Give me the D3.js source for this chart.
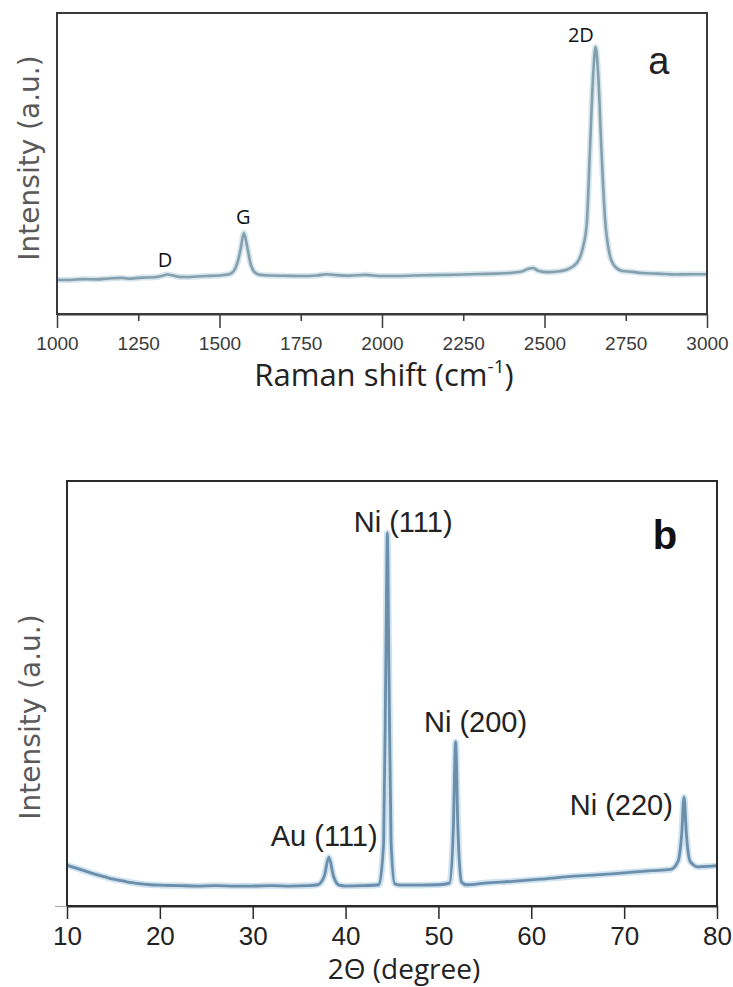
<!DOCTYPE html>
<html>
<head>
<meta charset="utf-8">
<script src="https://cdn.jsdelivr.net/npm/d3@7"></script>
<style>
  html, body { margin: 0; padding: 0; background: #ffffff; }
  svg { display: block; }
</style>
</head>
<body>
<svg id="chart" width="733" height="987"></svg>
<script>
// ---------- Panel a: Raman spectrum ----------
const ramanShift = [1000,1040,1080,1120,1160,1200,1220,1260,1300,1320,1340,1360,1380,1420,1460,1500,1530,
  1545,1555,1565,1575,1585,1595,1608,1625,1650,1700,1750,1800,1830,1860,1900,1950,2000,2050,2100,2150,
  2200,2250,2300,2350,2400,2430,2450,2465,2480,2510,2540,2570,2600,2618,2630,2640,2650,2657,2665,2675,
  2686,2700,2715,2740,2770,2800,2850,2900,2950,3000];
const ramanIntensity = [11.4,11.3,11.6,11.5,11.8,12.0,11.7,12.1,12.2,12.6,13.1,12.7,12.3,12.4,12.6,12.8,13.2,
  14.5,17.0,21.5,26.9,22.5,17.0,13.9,13.0,12.8,12.7,12.6,12.8,13.2,12.9,12.7,13.0,12.6,12.6,12.8,12.9,
  13.0,13.1,13.3,13.4,13.7,14.1,15.0,15.3,14.4,13.9,14.1,14.8,17.0,22.0,30.0,55.0,80.0,88.7,80.0,55.0,
  32.0,20.0,16.0,14.3,14.0,13.6,13.4,13.1,13.2,13.2];
const ramanTicks = [1000,1250,1500,1750,2000,2250,2500,2750,3000];
const ramanMajor = [1000,1500,2000,2500,3000];
const ramanPeakNames = ["D","G","2D"];
const ramanPeakPos = [1332,1573,2612];
const ramanPeakLabelVal = [15.5,29.8,90.5];

// ---------- Panel b: XRD pattern ----------
const twoTheta = [10,11,12,13,14,15,16,17,18,19,20,22,24,26,28,30,32,34,36,37,37.7,38.2,38.7,39.3,40,42,43.6,
  44.1,44.35,44.5,44.65,44.9,45.3,46,48,50,51.2,51.6,51.85,52.1,52.5,53,55,58,61,64,67,70,73,75,75.8,76.2,
  76.45,76.7,77.1,78,79,80];
const xrdIntensity = [9.6,8.9,8.2,7.5,6.9,6.3,5.9,5.5,5.2,5.0,4.9,4.8,4.7,4.8,4.7,4.7,4.8,4.7,4.8,5.0,7.0,11.5,
  7.0,4.9,4.7,4.8,5.0,15,60,87.8,60,15,5.2,4.9,4.9,5.0,5.4,18,38.6,18,5.6,5.0,5.4,5.8,6.3,6.9,7.3,7.8,8.3,8.6,
  10.5,17,25.6,17,10.5,9.2,9.3,9.5];
const xrdTicks = [10,20,30,40,50,60,70,80];
const xrdPeakNames = ["Au (111)","Ni (111)","Ni (200)","Ni (220)"];
const xrdPeakPos = [37.7,46.2,54.0,69.7];
const xrdPeakLabelVal = [14.1,88.0,41.0,21.3];

const svg = d3.select("#chart");

// ===== Panel a =====
const xa = d3.scaleLinear().domain([1000,3000]).range([57,707]);
const ya = d3.scaleLinear().domain([0,100]).range([314,13]);

const ga = svg.append("g");
const lineA = d3.line().x((d,i)=>xa(ramanShift[i])).y((d,i)=>ya(ramanIntensity[i])).curve(d3.curveMonotoneX);
ga.append("path").datum(ramanShift).attr("d", lineA)
  .attr("fill","none").attr("stroke","#d6e6ef").attr("stroke-width",6).attr("stroke-linejoin","round");
ga.append("path").datum(ramanShift).attr("d", lineA)
  .attr("fill","none").attr("stroke","#85a0ad").attr("stroke-width",2.6).attr("stroke-linejoin","round");

ga.append("rect").attr("x",xa(1000)).attr("y",ya(100)).attr("width",xa(3000)-xa(1000)).attr("height",ya(0)-ya(100))
  .attr("fill","none").attr("stroke","#3a3a3a").attr("stroke-width",2);

const axA = ga.append("g").attr("transform",`translate(0,${ya(0)})`)
  .call(d3.axisBottom(xa).tickValues(ramanTicks).tickFormat(d3.format("d")).tickSize(7).tickSizeOuter(0));
axA.select(".domain").attr("stroke","#3a3a3a").attr("stroke-width",2);
axA.selectAll(".tick line").attr("stroke","#3a3a3a").attr("stroke-width",1.5)
  .attr("y2", d => ramanMajor.includes(d) ? 14 : 7);
axA.selectAll(".tick text").attr("y",23).attr("dy","0.71em")
  .attr("font-family","'Liberation Sans Narrow', 'Liberation Sans', Arial, sans-serif")
  .attr("font-size",19).attr("fill","#3a3a3a");

ga.append("text").attr("transform","translate(39,158) rotate(-90)").attr("text-anchor","middle")
  .attr("font-family","'DejaVu Sans', Verdana, sans-serif").attr("font-size",28).attr("fill","#5a5a5a")
  .text("Intensity (a.u.)");

const titleA = ga.append("text").attr("x",384).attr("y",386).attr("text-anchor","middle")
  .attr("font-family","'Open Sans', sans-serif").attr("font-size",31).attr("fill","#222");
titleA.append("tspan").text("Raman shift (cm");
titleA.append("tspan").attr("dy",-13).attr("font-size",19).text("-1");
titleA.append("tspan").attr("dy",13).text(")");

ga.selectAll("text.pk").data(ramanPeakNames).join("text").attr("class","pk")
  .attr("x",(d,i)=>xa(ramanPeakPos[i])).attr("y",(d,i)=>ya(ramanPeakLabelVal[i]))
  .attr("text-anchor","middle").attr("font-family","'Open Sans', sans-serif").attr("font-size",20)
  .attr("fill","#111").text(d=>d);

ga.append("text").attr("x",xa(2852)).attr("y",74).attr("text-anchor","middle")
  .attr("font-family","'Liberation Sans', Arial, sans-serif").attr("font-size",38).attr("fill","#222").text("a");

// ===== Panel b =====
const xb = d3.scaleLinear().domain([10,80]).range([67,717]);
const yb = d3.scaleLinear().domain([0,100]).range([906,481]);

const gb = svg.append("g");
const lineB = d3.line().x((d,i)=>xb(twoTheta[i])).y((d,i)=>yb(xrdIntensity[i])).curve(d3.curveMonotoneX);
gb.append("path").datum(twoTheta).attr("d", lineB)
  .attr("fill","none").attr("stroke","#cfe3f0").attr("stroke-width",6.5).attr("stroke-linejoin","round");
gb.append("path").datum(twoTheta).attr("d", lineB)
  .attr("fill","none").attr("stroke","#6b8eaa").attr("stroke-width",2.8).attr("stroke-linejoin","round");

gb.append("rect").attr("x",xb(10)).attr("y",yb(100)).attr("width",xb(80)-xb(10)).attr("height",yb(0)-yb(100))
  .attr("fill","none").attr("stroke","#2a2a2a").attr("stroke-width",2);

const axB = gb.append("g").attr("transform",`translate(0,${yb(0)})`)
  .call(d3.axisBottom(xb).tickValues(xrdTicks).tickFormat(d3.format("d")).tickSize(13).tickSizeOuter(0));
axB.select(".domain").attr("stroke","#2a2a2a").attr("stroke-width",2);
axB.selectAll(".tick line").attr("stroke","#2a2a2a").attr("stroke-width",1.5);
axB.selectAll(".tick text").attr("y",21).attr("dy","0.71em")
  .attr("font-family","'Liberation Sans Narrow', 'Liberation Sans', Arial, sans-serif")
  .attr("font-size",26).attr("fill","#222");

// small faint left tick at the baseline, as in the reference
const axBL = gb.append("g").attr("transform",`translate(${xb(10)},0)`)
  .call(d3.axisLeft(yb).tickValues([0]).tickFormat("").tickSize(12).tickSizeOuter(0));
axBL.select(".domain").remove();
axBL.selectAll(".tick line").attr("stroke","#aaa").attr("stroke-width",1.2);

gb.append("text").attr("transform","translate(40,717) rotate(-90)").attr("text-anchor","middle")
  .attr("font-family","'DejaVu Sans', Verdana, sans-serif").attr("font-size",28).attr("fill","#5a5a5a")
  .text("Intensity (a.u.)");

gb.append("text").attr("x",404).attr("y",979).attr("text-anchor","middle")
  .attr("font-family","'Open Sans', sans-serif").attr("font-size",28).attr("fill","#222")
  .text("2Θ (degree)");

gb.selectAll("text.pk").data(xrdPeakNames).join("text").attr("class","pk")
  .attr("x",(d,i)=>xb(xrdPeakPos[i])).attr("y",(d,i)=>yb(xrdPeakLabelVal[i]))
  .attr("text-anchor","middle").attr("font-family","'Liberation Sans Narrow', 'Liberation Sans', Arial, sans-serif")
  .attr("font-size",29).attr("fill","#222").text(d=>d);

gb.append("text").attr("x",665).attr("y",549).attr("text-anchor","middle")
  .attr("font-family","'Liberation Sans', Arial, sans-serif").attr("font-weight","bold")
  .attr("font-size",40).attr("fill","#111").text("b");
</script>
</body>
</html>
